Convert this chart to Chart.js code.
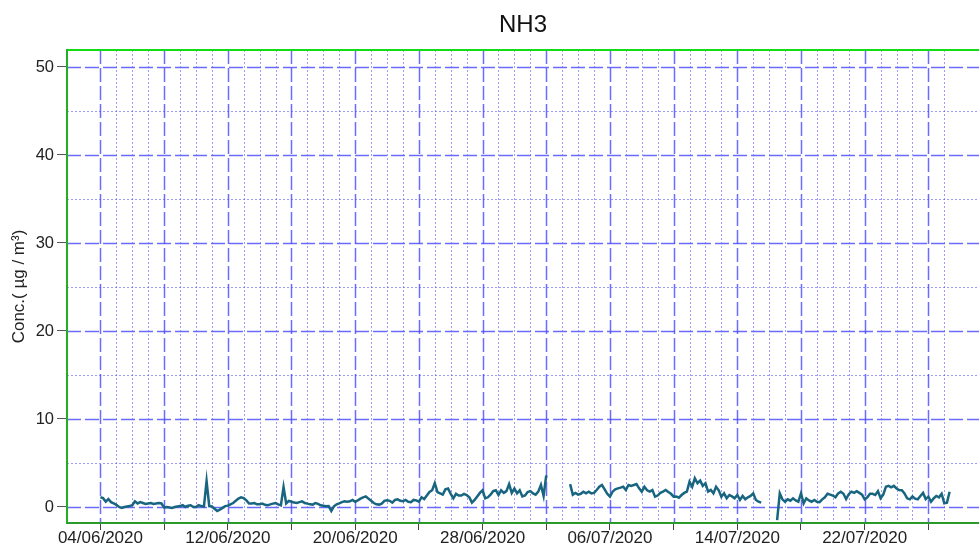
<!DOCTYPE html>
<html>
<head>
<meta charset="utf-8">
<title>NH3</title>
<script src="https://cdn.jsdelivr.net/npm/chart.js@4.4.1/dist/chart.umd.min.js"></script>
<style>
  html, body { margin: 0; padding: 0; background: #fff; }
  canvas { display: block; }
</style>
</head>
<body>
<canvas id="nh3Chart" width="979" height="548"></canvas>
<script>
// NH3 concentration, one value every 4 hours (µg/m3)
// x = days counted from 04/06/2020 00:00
const START_DATE = Date.UTC(2020, 5, 4);
const STEP = 1 / 6;

// 04/06/2020 00:00 -> 02/07/2020 00:00
const seg1Start = 0;
const seg1 = [
  1.1, 1.0, 0.6, 0.9, 0.55, 0.4,
  0.25, 0.0, -0.1, 0.0, 0.05, 0.1,
  0.2, 0.65, 0.4, 0.55, 0.45, 0.35,
  0.4, 0.45, 0.35, 0.4, 0.45, 0.4,
  -0.05, 0.0, -0.05, -0.1, 0.0, 0.05,
  0.1, 0.2, 0.0, 0.15, 0.2, 0.0,
  0.0, 0.2, 0.1, 0.05, 2.95, 0.1,
  0.05, -0.2, -0.45, -0.3, -0.1, 0.1,
  0.15, 0.3, 0.45, 0.7, 0.95, 1.1,
  1.0, 0.75, 0.4, 0.4, 0.45, 0.3,
  0.3, 0.38, 0.25, 0.19, 0.3, 0.38,
  0.45, 0.3, 0.19, 2.27, 0.4, 0.7,
  0.6, 0.5, 0.45, 0.55, 0.64, 0.45,
  0.38, 0.3, 0.27, 0.45, 0.35, 0.19,
  0.15, 0.08, 0.1, -0.45, 0.08, 0.3,
  0.4, 0.55, 0.64, 0.6, 0.64, 0.8,
  0.6, 0.75, 0.95, 1.1, 1.2, 0.95,
  0.7, 0.45, 0.3, 0.27, 0.38, 0.7,
  0.75, 0.7, 0.5, 0.8, 0.87, 0.7,
  0.65, 0.8, 0.6, 0.55, 0.8, 0.75,
  0.6, 1.1, 0.9, 1.3, 1.7, 1.9,
  2.7, 1.7, 1.55, 1.4, 2.0, 2.1,
  1.5, 0.98, 1.5, 1.3, 1.3, 1.48,
  1.36, 1.1, 0.5, 0.8, 1.2, 1.6,
  1.9, 0.98, 1.1, 1.4, 1.8, 1.9,
  1.36, 1.9, 1.6, 1.8, 2.6, 1.6,
  2.1, 1.55, 1.9, 1.2, 1.3, 1.7,
  1.8, 1.55, 1.4, 1.74, 2.5, 1.25,
  3.6
];

// 03/07/2020 12:00 -> 15/07/2020 12:00
const seg2Start = 29.5;
const seg2 = [
  2.6, 1.4, 1.6,
  1.4, 1.5, 1.74, 1.55, 1.74, 1.55,
  1.6, 1.93, 2.3, 2.5, 2.0, 1.5,
  1.17, 1.74, 2.0, 2.12, 2.2, 2.3,
  1.93, 2.5, 2.4, 2.5, 2.6, 2.12,
  1.74, 2.3, 1.9, 1.74, 1.93, 1.17,
  1.3, 1.6, 1.74, 1.93, 1.7, 1.5,
  1.17, 1.2, 1.05, 1.36, 1.6, 1.74,
  2.88, 2.3, 3.26, 2.7, 3.0, 2.4,
  2.7, 1.74, 1.93, 1.55, 2.3, 1.9,
  1.17, 1.55, 1.0, 1.36, 1.2, 0.98,
  1.36, 0.8, 1.25, 0.87, 1.1, 1.25,
  1.55, 0.8, 0.6, 0.49
];

// 16/07/2020 12:00 -> 27/07/2020 08:00
const seg3Start = 42.5;
const seg3 = [
  -1.48, 1.55, 0.87,
  0.6, 0.87, 0.72, 0.98, 0.75, 0.6,
  1.55, 0.42, 0.98, 0.75, 0.6, 0.8,
  0.6, 0.55, 0.87, 1.1, 1.5, 1.4,
  1.3, 1.1, 1.55, 1.74, 1.5, 0.9,
  1.45, 1.74, 1.6, 1.8, 1.6, 1.4,
  0.87, 1.1, 1.5, 1.5, 1.36, 1.8,
  1.0, 1.4, 2.3, 2.4, 2.23, 2.4,
  2.1, 1.93, 1.9, 1.55, 0.98, 0.87,
  1.2, 0.95, 0.87, 1.25, 1.6, 0.9,
  1.17, 0.6, 0.98, 1.25, 1.1, 1.5,
  0.42, 0.49, 1.74
];

const FONT = 'Arial, "Liberation Sans", sans-serif';
const gridFirstDay = 0;
const gridLastDay = 53;

function toPoints(start, values) {
  return values.map((v, i) => ({ x: start + i * STEP, y: v }));
}

function fmtDate(day) {
  const d = new Date(START_DATE + day * 86400000);
  const dd = String(d.getUTCDate()).padStart(2, '0');
  const mm = String(d.getUTCMonth() + 1).padStart(2, '0');
  return dd + '/' + mm + '/' + d.getUTCFullYear();
}

// dashed / dotted grid like the original software, plus the green frame
const refGrid = {
  id: 'refGrid',
  beforeDatasetsDraw(chart) {
    const { ctx, chartArea: a, scales: { x, y } } = chart;
    ctx.save();
    ctx.beginPath();
    ctx.rect(a.left, a.top, a.right - a.left, a.bottom - a.top);
    ctx.clip();

    const style = (major) => {
      if (major) {
        ctx.strokeStyle = 'rgba(70,70,255,0.8)';
        ctx.lineWidth = 1.5;
        ctx.setLineDash([14, 4]);
      } else {
        ctx.strokeStyle = 'rgba(90,90,255,0.6)';
        ctx.lineWidth = 1;
        ctx.setLineDash([2, 2]);
      }
    };

    for (let v = 0; v <= 50; v += 5) {
      const py = Math.round(y.getPixelForValue(v)) + 0.5;
      style(v % 10 === 0);
      ctx.beginPath();
      ctx.moveTo(a.left, py);
      ctx.lineTo(a.right, py);
      ctx.stroke();
    }
    for (let d = gridFirstDay; d <= gridLastDay; d++) {
      const px = Math.round(x.getPixelForValue(d)) + 0.5;
      style(d % 4 === 0);
      ctx.beginPath();
      ctx.moveTo(px, a.top);
      ctx.lineTo(px, a.bottom);
      ctx.stroke();
    }
    ctx.restore();
  },
  afterDatasetsDraw(chart) {
    const { ctx, chartArea: a } = chart;
    ctx.save();
    ctx.lineWidth = 2;
    ctx.strokeStyle = '#16dc16';
    ctx.beginPath();
    ctx.moveTo(a.left, a.top);
    ctx.lineTo(a.right, a.top);
    ctx.stroke();
    ctx.strokeStyle = '#22b022';
    ctx.beginPath();
    ctx.moveTo(a.left, a.top - 1);
    ctx.lineTo(a.left, a.bottom + 1);
    ctx.stroke();
    ctx.strokeStyle = '#2a9a2a';
    ctx.beginPath();
    ctx.moveTo(a.left, a.bottom);
    ctx.lineTo(a.right, a.bottom);
    ctx.stroke();
    ctx.restore();
  }
};

const lineStyle = {
  borderColor: '#186580',
  borderWidth: 2.5,
  pointRadius: 0,
  fill: false,
  tension: 0
};

new Chart(document.getElementById('nh3Chart'), {
  type: 'line',
  data: {
    datasets: [
      { label: 'NH3', data: toPoints(seg1Start, seg1), ...lineStyle },
      { label: 'NH3', data: toPoints(seg2Start, seg2), ...lineStyle },
      { label: 'NH3', data: toPoints(seg3Start, seg3), ...lineStyle }
    ]
  },
  options: {
    responsive: false,
    animation: false,
    layout: { padding: 0 },
    plugins: {
      legend: { display: false },
      tooltip: { enabled: false },
      title: {
        display: true,
        text: 'NH3',
        fullSize: false,
        color: '#111',
        font: { family: FONT, size: 24, weight: 'normal' },
        padding: { top: 10.6, bottom: 10.6 }
      }
    },
    scales: {
      x: {
        type: 'linear',
        min: -2.1,
        max: 55.18,
        border: { display: false },
        grid: { drawOnChartArea: false, tickLength: 7, tickColor: '#444' },
        ticks: {
          stepSize: 4,
          includeBounds: false,
          autoSkip: false,
          maxRotation: 0,
          padding: 0,
          color: '#222',
          font: { family: FONT, size: 17, lineHeight: 1 },
          callback: (v) => (v % 8 === 0 ? fmtDate(v) : '')
        },
        afterFit: (s) => { s.height = 25; }
      },
      y: {
        min: -1.82,
        max: 51.93,
        border: { display: false },
        grid: { drawOnChartArea: false, tickLength: 10, tickColor: '#555' },
        ticks: {
          stepSize: 10,
          includeBounds: false,
          padding: 3,
          color: '#222',
          font: { family: FONT, size: 16.5 }
        },
        title: {
          display: true,
          text: 'Conc.( µg / m³)',
          color: '#222',
          font: { family: FONT, size: 17 },
          padding: { top: 9, bottom: 0 }
        },
        afterFit: (s) => { s.width = 67; }
      }
    }
  },
  plugins: [refGrid]
});
</script>
</body>
</html>
